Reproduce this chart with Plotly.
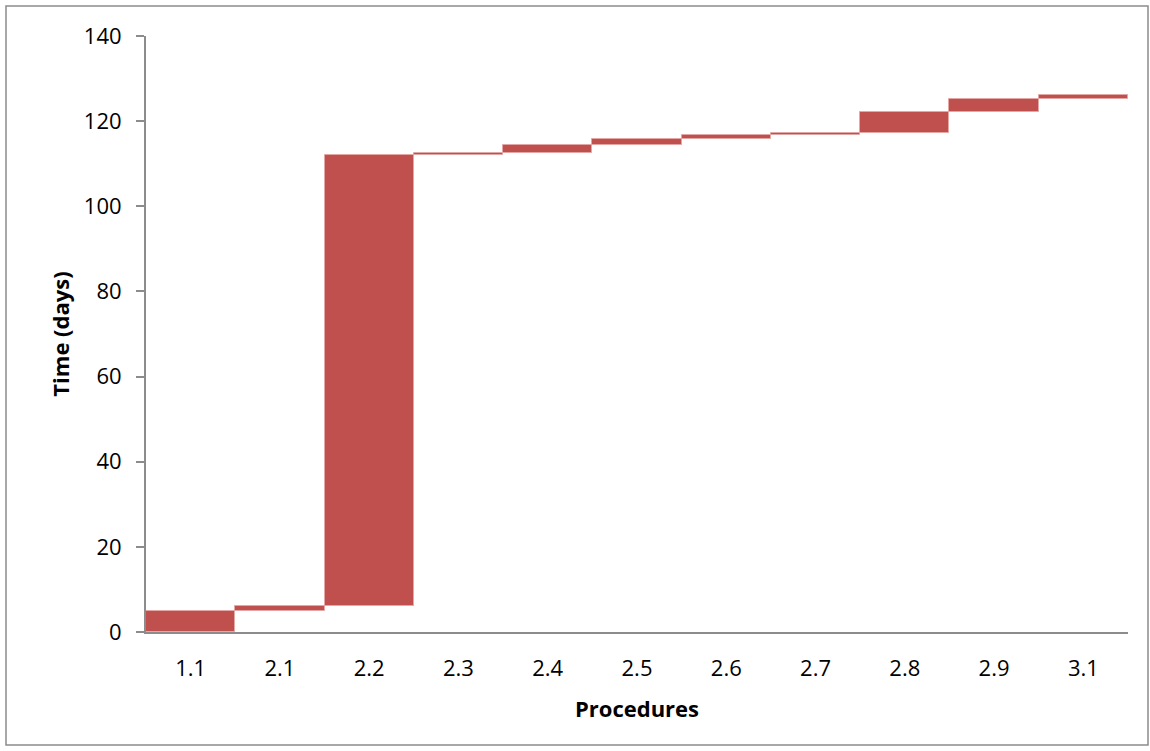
import plotly.graph_objects as go

procedures = ["1.1", "2.1", "2.2", "2.3", "2.4", "2.5", "2.6", "2.7", "2.8", "2.9", "3.1"]
durations = [5, 1, 106, 0.5, 2, 1.2, 1, 0.5, 5, 3, 1]

starts = []
acc = 0
for d in durations:
    starts.append(acc)
    acc += d

fig = go.Figure()
fig.add_trace(go.Bar(
    x=procedures, y=durations, base=starts,
    marker=dict(color="#C0504D", line=dict(color="#E3A8A6", width=1)),
    showlegend=False,
))

font = dict(family="Open Sans, Liberation Sans, sans-serif", size=22, color="black")
fig.update_layout(
    width=1150, height=751,
    margin=dict(l=146, r=22, t=36, b=119),
    paper_bgcolor="white", plot_bgcolor="white",
    bargap=0,
    font=font,
    xaxis=dict(
        type="category",
        showline=True, linecolor="#8C8C8C", linewidth=2,
        ticks="", showgrid=False,
        title=dict(text="<b>Procedures</b>", font=dict(size=22), standoff=20),
        ticklabelstandoff=16,
    ),
    yaxis=dict(
        range=[0, 140], dtick=20,
        showline=True, linecolor="#8C8C8C", linewidth=2,
        ticks="outside", ticklen=8, tickcolor="#8C8C8C", tickwidth=2,
        showgrid=False, zeroline=False,
        ticklabelstandoff=10,
        title=dict(text="<b>Time (days)</b>", font=dict(size=22), standoff=8),
    ),
    shapes=[dict(
        type="rect", xref="paper", yref="paper",
        x0=-140/982, x1=(1148-146)/982,
        y0=-(745-632)/596, y1=(632-6)/596,
        line=dict(color="#8C8C8C", width=1.5), fillcolor="rgba(0,0,0,0)",
        layer="below",
    )],
)

fig.write_html("out.html", config={"displayModeBar": False},
               post_script="document.body.style.margin='0px';")
